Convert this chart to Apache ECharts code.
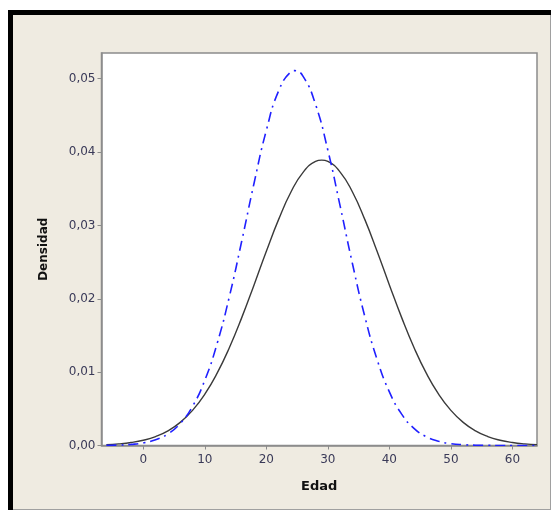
<!DOCTYPE html>
<html>
<head>
<meta charset="utf-8">
<script src="https://cdn.jsdelivr.net/npm/echarts@6/dist/echarts.min.js"></script>
<style>
html,body{margin:0;padding:0;background:#ffffff;}
#chart{width:553px;height:511px;}
</style>
</head>
<body>
<div id="chart"></div>
<script>
// Edad (x) and Densidad (y)
const edadNegro = [-6,-4,-2,0,2,4,6,8,10,12,14,16,18,20,22,24,26,28,29,30,32,34,36,38,40,42,44,46,48,50,52,54,56,58,60,62,64];
const densNegro = [0.000116,0.000221,0.000405,0.000716,0.00122,0.00200,0.00315,0.00479,0.00700,0.00986,0.01336,0.01743,0.02189,0.02648,0.03082,0.03455,0.03727,0.03872,0.0389,0.03872,0.03727,0.03455,0.03082,0.02648,0.02189,0.01743,0.01336,0.00986,0.00700,0.00479,0.00315,0.00200,0.00122,0.000716,0.000405,0.000221,0.000116];

const edadAzul = [-6,-4,-2,0,2,4,6,8,10,12,14,16,18,20,22,24,24.6,26,28,30,32,34,36,38,40,42,44,46,48,50,52,54,56,58,60,62,64];
const densAzul = [0.0000237,0.0000626,0.000155,0.000358,0.000776,0.00158,0.00300,0.00534,0.00891,0.01391,0.02034,0.02787,0.03575,0.04296,0.04835,0.05095,0.0511,0.05029,0.04648,0.04024,0.03262,0.02477,0.01761,0.01173,0.00731,0.00427,0.00234,0.00120,0.000574,0.000258,0.000109,0.000042,0.000015,0.000005,0.000001,0,0];

const xTicks = [0,10,20,30,40,50,60];
const yTicks = [0,0.01,0.02,0.03,0.04,0.05];

const chart = echarts.init(document.getElementById('chart'));
const labelColor = '#3a3a58';
const fmt = v => v.toFixed(2).replace('.', ',');

chart.setOption({
  animation: false,
  graphic: [
    {type:'rect', shape:{x:8,y:10,width:543,height:500}, style:{fill:'#000000'}, z:-10},
    {type:'rect', shape:{x:13,y:15,width:538,height:495}, style:{fill:'#EFEBE1'}, z:-9},
    {type:'line', shape:{x1:550.5,y1:15,x2:550.5,y2:510}, style:{stroke:'#a0a0a0',lineWidth:1}, z:-8},
    {type:'line', shape:{x1:13,y1:509.5,x2:551,y2:509.5}, style:{stroke:'#a0a0a0',lineWidth:1}, z:-8}
  ],
  grid: {
    left: 101.5, right: 16, top: 53, bottom: 65.5,
    show: true, backgroundColor: '#ffffff', borderColor: '#8c8c8c', borderWidth: 1.5
  },
  xAxis: {
    type: 'value', min: -6.8, max: 64,
    name: 'Edad', nameLocation: 'middle', nameGap: 35,
    nameTextStyle: {fontFamily: 'DejaVu Sans', fontSize: 13, fontWeight: 'bold', color: '#111'},
    axisLine: {show: true, onZero: false, lineStyle: {color: '#8c8c8c', width: 1.5}},
    axisTick: {show: true, inside: false, length: 4, customValues: xTicks, lineStyle: {color: '#8c8c8c'}},
    axisLabel: {customValues: xTicks, fontFamily: 'DejaVu Sans', fontSize: 12, color: labelColor, margin: 8},
    splitLine: {show: false}
  },
  yAxis: {
    type: 'value', min: 0, max: 0.0535,
    name: 'Densidad', nameLocation: 'middle', nameGap: 52, nameRotate: 90,
    nameTextStyle: {fontFamily: 'DejaVu Sans', fontSize: 12, fontWeight: 'bold', color: '#111'},
    axisLine: {show: true, onZero: false, lineStyle: {color: '#8c8c8c', width: 1.5}},
    axisTick: {show: true, inside: false, length: 4, customValues: yTicks, lineStyle: {color: '#8c8c8c'}},
    axisLabel: {customValues: yTicks, formatter: fmt, fontFamily: 'DejaVu Sans', fontSize: 12, color: labelColor, margin: 6},
    splitLine: {show: false}
  },
  series: [
    {
      type: 'line', smooth: true, symbol: 'none', clip: true,
      data: edadNegro.map((x, i) => [x, densNegro[i]]),
      lineStyle: {color: '#3a3a3a', width: 1.4, type: 'solid'}
    },
    {
      type: 'line', smooth: true, symbol: 'none', clip: true,
      data: edadAzul.map((x, i) => [x, densAzul[i]]),
      lineStyle: {color: '#2020ff', width: 1.6, type: [10, 5, 2, 5]}
    }
  ]
});
</script>
</body>
</html>
